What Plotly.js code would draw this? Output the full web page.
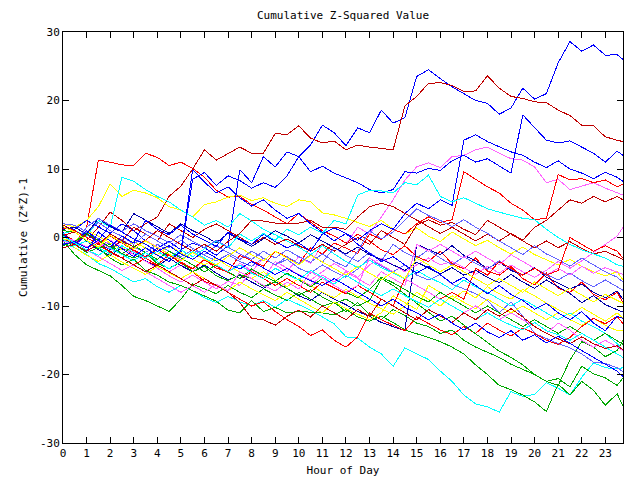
<!DOCTYPE html>
<html>
<head>
<meta charset="utf-8">
<script src="https://cdn.plot.ly/plotly-3.0.1.min.js"></script>
<style>
html,body{margin:0;padding:0;background:#fff;}
#chart{width:640px;height:480px;}
#chart .scatterlayer path.js-line{shape-rendering:crispEdges;}
</style>
</head>
<body>
<div id="chart"></div>
<script>
// Half-hour sample times (0, 0.5, ... 23.5) plus the last reading at 23.75
const hours = [];
for (let i = 0; i < 48; i++) hours.push(i / 2);
hours.push(23.75);

const xTickVals = [0,1,2,3,4,5,6,7,8,9,10,11,12,13,14,15,16,17,18,19,20,21,22,23];
const yTickVals = [-30,-20,-10,0,10,20,30];

// Cumulative (Z*Z)-1 series
const blueA   = [0.8,-1.2,0.5,-0.8,-1.8,-0.5,-2.0,-2.8,-1.5,-3.0,-2.2,8.5,9.5,7.6,9.0,8.3,7.2,8.0,7.3,9.0,11.8,13.5,16.4,15.3,13.4,16.0,15.3,18.6,16.7,17.5,23.5,24.5,23.2,22,21,20,19.6,18,18.9,21.8,20.2,21,25.5,28.6,27.2,28.1,26.6,26.7,26];
const blueB2  = [1.5,1.2,2.5,1.5,0.6,2.0,1.0,-0.5,-1.5,-0.6,-1.8,-0.8,-1.5,-2.6,-1.2,9.9,8.0,11.8,10.3,12.5,11.8,9.6,10.4,9.4,8.7,8.0,7.0,6.5,7.0,9.6,9.4,10.1,9.8,11.2,12.0,11.0,11.5,10.4,9.4,17.9,16.0,14.2,13.8,14.1,13.2,12.3,11.0,12.6,12.0];
const blueB4  = [-0.5,-0.8,1.0,-0.5,-1.4,0.2,-0.8,2.5,1.2,0.4,1.8,0.5,-0.4,-1.3,0.8,-0.2,-1.0,0.5,-0.6,-1.5,-0.8,-2.0,0.5,1.4,0.6,-0.4,1.0,2.0,1.2,3.5,5.0,4.2,5.5,4.7,14.2,15.0,14.0,13.2,12.5,12.0,11.0,10.2,11.2,10.0,9.4,8.6,9.5,8.8,8.2];
const blueB3  = [0.5,-1.0,-2.0,0.8,-0.5,-1.6,-2.8,-1.5,-2.6,-3.5,-2.0,9.9,8.1,6.5,7.4,5.8,4.6,5.5,4.0,2.8,3.5,2.0,0.8,-0.5,0.6,-1.0,-2.3,-3.5,-2.8,-4.0,-5.2,-4.2,-5.5,-6.7,-5.8,-7.0,-8.2,-7.0,-8.3,-9.2,-10.5,-9.6,-11.0,-12.0,-10.8,-12.5,-13.6,-11.5,-11.8];
const blue3   = [-1.0,-0.6,-1.5,-0.4,1.8,0.8,-0.2,-1.0,-2.0,-1.2,-2.4,-3.2,-2.0,-3.0,-3.8,-4.6,-3.5,-4.4,-5.4,-4.5,-5.5,-6.3,-7.0,-6.0,-7.0,-8.0,-9.0,-10.0,-9.0,-10.2,-11.0,-12.0,-11.2,-12.5,-13.5,-12.5,-13.8,-14.6,-13.6,-15.0,-14.2,-15.4,-14.4,-15.5,-16.5,-17.5,-18.5,-19.5,-20.3];
const navy1   = [-0.5,-1.2,-0.5,-1.8,-2.6,-1.5,-2.4,-3.4,-4.2,-3.0,-4.1,-5.0,-4.0,-5.2,-6.2,-5.5,-6.5,-7.4,-6.4,-7.5,-8.5,-9.2,-8.0,-9.0,-9.8,-10.8,-11.5,-12.4,-13.0,-13.6,-1.0,-1.8,-2.5,-1.2,-2.6,-3.4,-4.5,-3.6,-4.8,-5.5,-4.4,-5.8,-6.6,-7.5,-6.8,-8.0,-8.8,-7.8,-9.0];
const navy2   = [1.2,1.5,0.5,2.8,1.6,0.8,3.5,2.5,1.5,0.6,2.0,1.0,0.2,-0.8,0.6,-0.4,-1.3,-0.2,1.0,0.2,-0.8,0.4,-0.5,-1.5,-2.4,-1.4,-2.5,-3.2,-4.0,-4.8,-3.6,-4.5,-5.3,-4.4,-5.5,-4.8,-5.8,-6.6,-5.4,-6.5,-7.4,-6.2,-7.2,-8.2,-9.5,-8.5,-9.8,-10.5,-10.9];
const slate1  = [0.3,-0.5,0.8,-0.2,-1.0,-0.3,-1.4,-2.2,-1.0,-2.0,-2.8,-1.8,-2.6,-3.4,-2.5,-3.5,-4.2,-3.0,-4.0,-3.2,-4.5,-5.2,-4.0,-5.0,-5.8,-4.6,-3.0,-4.2,-5.0,-4.0,-5.5,-6.2,-5.4,-6.8,-7.5,-8.2,-9.2,-11.0,-9.4,-11.5,-14.0,-14.8,-15.5,-16.1,-17.0,-18.2,-18.4,-19.0,-19.6];
const slate2  = [2.0,1.8,0.8,2.2,1.0,0.2,-1.0,0.5,-0.5,-1.5,-0.4,-1.6,-2.5,-1.2,-2.2,-3.2,-2.0,-3.0,-4.0,-2.8,-3.8,-2.5,-3.6,-1.5,-2.6,-3.5,-2.2,-3.4,-1.0,-2.2,-3.0,-1.8,-3.0,-4.0,-2.8,-3.8,-4.6,-3.4,-4.6,-5.5,-4.5,-5.4,-6.2,-5.2,-6.3,-7.2,-6.2,-7.2,-7.7];
const slate3  = [-0.8,-1.0,1.5,2.8,1.8,0.9,2.0,1.0,0.2,-0.8,0.4,-0.6,-1.5,-0.4,-1.4,-2.4,-3.2,-2.0,-3.0,-1.8,-2.8,-3.6,-2.4,-3.5,-4.3,-2.0,1.0,-0.2,0.8,2.5,4.2,3.2,2.5,1.6,2.6,1.5,0.6,-0.5,-1.5,-2.5,-1.2,-2.4,-3.2,-4.2,-3.0,-4.0,-5.0,-5.8,-6.5];
const cyanE   = [-0.8,-1.5,-2.5,-3.8,-4.5,-5.5,-6.5,-6.0,-7.2,-8.0,-7.0,-7.8,-8.8,-9.5,-8.6,-9.4,-10.0,-9.2,-10.2,-9.0,-9.8,-10.6,-11.6,-12.6,-14.5,-14.7,-16.0,-17.0,-18.8,-16.1,-17.0,-17.8,-19.5,-21.0,-23.0,-24.3,-24.7,-25.5,-22.5,-23.2,-22.9,-21.2,-22.0,-23.0,-20.4,-18.3,-19.0,-19.2,-19.0];
const cyan2   = [0.6,1.0,0.2,2.5,1.5,8.8,8.2,7.0,6.0,5.2,4.0,3.0,1.8,2.5,1.5,3.5,2.4,1.2,0.4,-0.5,-1.4,-2.5,-1.2,-2.4,-3.5,-4.4,-3.3,-4.4,-5.2,-6.0,-4.8,-5.8,-6.6,-7.6,-6.2,-7.2,-8.0,-9.0,-10.0,-9.0,-10.0,-11.0,-12.0,-11.0,-12.2,-13.0,-14.0,-15.5,-16.4];
const cyan3   = [-0.3,-1.2,-0.5,-1.5,-2.4,-1.2,-2.2,-3.0,-2.0,-3.0,-1.8,-2.8,-1.6,-0.5,-1.5,0.5,-0.5,0.6,-0.4,1.2,0.4,1.5,0.6,2.5,2.0,6.2,6.9,6.8,6.5,8.0,7.7,9.1,6.0,5.2,5.8,5.0,4.2,3.7,3.2,2.8,2.6,1.2,0.0,-1.0,-1.8,-2.4,-3.0,-4.0,-4.2];
const cyan4   = [0.2,-0.8,-1.8,-2.6,-1.5,-2.5,-3.4,-2.2,-3.5,-4.6,-3.4,-2.0,-3.0,-4.0,-5.0,-4.0,-5.2,-6.0,-4.5,-5.4,-6.2,-4.8,-5.8,-6.8,-5.5,-6.6,-7.6,-8.5,-7.5,-8.5,-9.4,-10.2,-9.0,-10.0,-11.0,-12.0,-11.0,-12.0,-12.8,-13.5,-12.4,-13.6,-14.2,-15.0,-14.0,-15.0,-16.0,-17.0,-17.5];
const green1  = [-0.5,-2.5,-4.0,-4.8,-5.6,-7.0,-8.6,-9.2,-10.0,-10.8,-9.0,-6.8,-7.5,-8.2,-7.0,-8.0,-8.8,-7.5,-8.4,-9.2,-8.0,-9.0,-10.0,-9.5,-10.8,-9.5,-11.2,-12.0,-10.5,-11.4,-12.5,-13.0,-14.0,-13.5,-15.0,-16.0,-16.8,-17.5,-18.5,-19.2,-20.0,-21.0,-21.6,-17.9,-15.2,-16.0,-17.4,-16.5,-15.0];
const green2  = [0.4,-1.0,-2.2,-1.5,-3.0,-4.0,-3.2,-4.8,-5.5,-6.5,-7.0,-7.8,-8.5,-9.3,-10.6,-11.0,-9.2,-10.8,-10.2,-11.0,-10.8,-10.9,-11.0,-11.3,-10.5,-11.6,-12.2,-11.5,-12.4,-13.5,-14.0,-14.6,-15.2,-16.0,-17.0,-18.6,-20.0,-21.6,-22.2,-23.0,-24.0,-25.4,-21.4,-23.0,-21.0,-22.3,-24.5,-22.8,-24.6];
const green3  = [1.0,0.8,-0.5,-1.6,-1.0,-2.4,-3.0,-2.2,-3.8,-4.5,-3.6,-5.0,-4.2,-5.6,-6.3,-5.4,-6.0,-7.1,-6.5,-7.5,-8.4,-7.6,-8.7,-9.6,-9.0,-10.0,-9.2,-6.0,-7.0,-8.3,-9.6,-11.0,-12.2,-11.5,-12.8,-14.0,-15.4,-16.6,-17.5,-18.6,-20.0,-21.0,-20.6,-21.8,-18.8,-19.9,-20.5,-21.6,-20.5];
const green4  = [-1.2,-0.6,0.6,-0.4,-1.4,-2.4,-1.2,-2.2,-3.2,-2.0,-3.0,-4.0,-5.0,-4.0,-5.0,-6.0,-4.6,-5.6,-6.4,-5.2,-6.2,-7.2,-6.0,-7.0,-8.0,-8.8,-7.6,-5.8,-6.6,-7.6,-8.6,-9.4,-8.0,-9.0,-10.0,-11.0,-10.0,-11.0,-12.0,-13.0,-12.0,-13.0,-14.0,-13.0,-14.0,-15.0,-14.0,-15.0,-15.6];
const yellow1 = [2.0,1.5,2.5,4.5,7.8,6.0,6.9,6.5,5.8,4.5,4.0,3.0,4.8,5.2,5.9,6.2,5.4,5.8,5.0,4.5,5.5,5.2,3.6,3.3,2.8,2.2,1.6,2.5,1.2,0.5,1.4,0.2,-0.6,0.8,-0.2,-1.2,-0.4,-1.5,-2.4,-1.4,-2.5,-3.2,-4.0,-3.2,-4.2,-5.0,-5.6,-5.0,-6.2];
const yellow2 = [-0.2,-0.6,1.0,0.2,-0.8,-1.8,-0.6,-1.6,-2.5,-1.2,-2.2,-3.2,-4.0,-3.0,-4.2,-5.0,-6.0,-5.0,-6.2,-7.2,-6.0,-7.0,-8.0,-8.8,-7.6,-8.6,-9.6,-10.4,-11.2,-10.0,-8.0,-9.0,-10.0,-8.5,-9.5,-10.4,-9.0,-10.0,-11.0,-10.0,-11.0,-12.0,-11.0,-12.0,-12.8,-11.8,-12.8,-13.6,-13.5];
const yellow3 = [0.5,-1.5,-2.6,-3.5,-2.5,-3.6,-4.5,-5.4,-4.2,-5.2,-6.0,-5.0,-6.0,-7.0,-7.8,-6.5,-7.5,-8.4,-9.2,-8.0,-9.0,-10.0,-11.0,-9.4,-10.4,-11.2,-12.0,-11.0,-8.5,-9.5,-10.5,-7.0,-8.0,-9.0,-7.8,-8.8,-7.2,-8.2,-9.0,-7.6,-8.5,-9.6,-10.5,-11.4,-10.2,-11.2,-12.2,-11.0,-11.8];
const yellow4 = [1.6,0.8,-0.4,-1.4,0.3,-0.7,-1.7,-0.5,-1.5,-2.5,-3.4,-2.2,-3.2,-4.0,-2.8,-1.5,-2.5,-3.4,-2.0,-3.0,-4.0,-2.6,-3.6,-4.5,-5.5,-4.2,-5.2,-6.2,-5.0,-6.0,-3.0,-4.0,-5.0,-4.0,-5.0,-6.0,-7.0,-6.0,-7.0,-8.0,-6.5,-7.5,-8.5,-7.4,-8.4,-9.4,-8.3,-9.2,-9.6];
const pink1   = [-0.4,-1.0,-2.0,-1.0,-2.0,-3.0,-2.0,-3.0,-4.0,-5.0,-4.0,-5.0,-3.0,-4.0,-5.0,-4.0,-5.0,-3.0,-4.0,-5.0,-2.8,-3.8,-1.0,-2.0,-1.0,1.5,0.5,3.0,5.5,8.4,10.3,10.9,10.2,11.8,12.0,12.8,13.2,12.3,11.5,11.3,10.3,8.0,8.5,7.0,7.5,8.0,7.2,6.6,6.2];
const pink2   = [1.0,0.8,-0.5,-1.5,-0.4,-1.4,-2.5,-3.4,-4.5,-5.6,-6.5,-5.5,-6.5,-7.5,-6.4,-7.0,-5.0,-6.0,-3.5,-4.5,-5.4,-6.2,-5.0,-3.8,-4.8,-5.8,-4.0,-3.0,-4.0,-5.0,-4.0,-3.0,-4.0,-3.5,-4.4,-5.4,-4.2,-5.2,-4.0,-5.0,-5.8,-4.8,-3.5,-4.5,-3.4,-2.2,-1.0,0.2,1.5];
const pink3   = [0.2,-0.5,-1.4,-0.6,-1.6,-2.4,-1.4,-0.4,-1.4,-2.4,-3.2,-2.2,-3.0,-4.0,-5.0,-3.8,-4.8,-5.6,-6.4,-5.2,-6.2,-7.0,-5.5,-6.5,-5.0,-6.0,-7.0,-5.0,-6.0,-7.0,-1.0,-2.0,-1.0,-2.0,-3.0,-2.0,-3.0,-4.0,-2.5,-3.5,-4.5,-5.5,-4.5,-5.5,-4.2,-5.2,-4.4,-5.0,-5.4];
const pink4   = [-0.6,-0.8,-1.8,-2.8,-3.8,-4.8,-4.0,-5.0,-6.0,-7.0,-8.0,-7.0,-8.0,-6.8,-7.8,-5.0,-6.0,-7.0,-7.8,-6.5,-7.5,-5.0,-6.0,-7.0,-8.0,-7.0,-3.0,-4.0,-5.0,-6.0,-7.0,-8.0,-9.0,-10.0,-11.0,-10.0,-11.0,-12.0,-11.0,-12.0,-13.0,-14.0,-12.5,-13.5,-15.0,-16.0,-15.0,-16.0,-16.5];
const redC    = [0.6,-0.8,1.5,11.3,11.0,10.6,10.5,12.3,11.7,10.5,11.0,10.1,8.8,6.9,5.9,6.0,4.8,4.0,3.0,2.0,3.5,2.2,1.0,0.2,-0.8,0.5,-0.5,-1.8,-2.5,-1.2,-2.8,-3.5,-2.0,-3.8,-4.6,-3.0,-4.9,-5.5,-4.2,-6.0,-6.9,-5.2,-7.4,-8.0,-6.5,-8.3,-9.1,-8.0,-9.5];
const redD    = [0.5,-0.5,-1.5,-0.8,-2.2,-3.0,-1.8,-3.5,-4.0,-2.5,-3.8,-4.6,-3.2,-4.5,-5.0,-2.6,-3.4,-4.2,-2.0,-2.9,-3.8,-1.5,-2.4,-0.8,-1.5,-2.3,0.5,-0.3,1.2,0.5,2.0,3.0,2.2,2.6,9.6,8.5,7.4,6.5,5.0,4.0,2.6,2.8,9.2,8.4,8.6,8.0,8.4,7.4,7.8];
const red3    = [-0.5,-1.0,-2.0,-1.0,-2.2,-3.0,-4.0,-3.0,-4.0,-5.0,-6.0,-5.0,-6.4,-7.0,-8.0,-9.0,-10.0,-9.4,-10.8,-12.0,-13.0,-14.3,-13.5,-15.0,-16.0,-14.5,-11.0,-12.0,-12.8,-13.6,-11.6,-12.6,-13.5,-14.2,-13.0,-14.0,-12.5,-13.5,-14.4,-13.2,-14.0,-15.0,-15.6,-14.6,-13.0,-11.8,-12.6,-11.5,-12.6];
const red4    = [1.4,1.0,0.0,-1.0,0.2,-0.8,-1.8,-2.8,-1.8,-2.6,-3.6,-4.5,-3.3,-4.2,-5.2,-6.0,-5.0,-6.0,-7.0,-6.0,-7.0,-8.0,-6.5,-7.4,-8.2,-7.0,-8.0,-9.0,-10.0,-6.0,-7.0,-8.0,-9.0,-8.0,-9.0,-4.5,-5.5,-3.5,-4.5,-5.5,-4.5,-5.5,-4.8,0.0,-1.0,-2.0,-1.2,-2.0,-3.0];
const dredB   = [0.3,0.8,-0.5,1.5,3.7,2.5,1.0,2.0,3.0,6.0,7.5,10.0,12.8,11.3,12.3,13.2,12.3,12.3,15.2,15.0,16.3,14.5,13.8,14.1,12.8,13.5,13.2,13.0,12.8,19.2,20.6,22.5,22.6,22.2,21.3,21.4,23.6,21.8,20.6,20.3,19.8,19.7,18.6,17.8,16.4,16.3,14.7,14.2,14.0];
const dred2   = [-0.3,-0.8,0.5,-0.5,-1.5,-0.5,1.5,0.5,-0.5,2.0,1.0,0.0,1.2,2.0,1.0,0.0,-1.0,0.0,-1.0,-0.2,-1.2,-2.0,-1.0,-2.0,-1.0,0.0,-1.0,1.0,0.0,-1.0,1.8,2.6,1.8,2.2,1.2,0.4,2.5,1.5,0.5,-0.5,-1.5,-0.5,-1.5,-0.6,-1.6,-2.4,-2.0,-2.8,-3.2];
const dred3   = [1.8,1.0,0.0,-1.0,0.5,-0.5,-1.4,-0.4,1.0,0.0,-1.0,-2.0,-1.0,-2.0,-0.6,0.6,2.5,2.4,2.1,2.0,2.1,2.5,1.5,1.5,1.2,3.0,4.5,5.0,4.5,3.5,2.5,1.5,0.6,1.5,0.5,-0.5,0.5,-0.5,0.6,-0.4,1.5,2.5,4.0,5.5,5.0,6.0,5.2,6.0,5.5];
const dred4   = [-1.5,-1.0,-2.0,-1.0,-2.0,-3.0,-4.0,-5.0,-4.0,-5.0,-6.0,-7.0,-6.0,-7.0,-8.0,-9.5,-11.8,-12.0,-12.8,-11.5,-10.6,-11.6,-10.0,-11.0,-12.0,-10.5,-11.5,-9.0,-10.0,-11.0,-12.0,-10.5,-11.5,-12.4,-11.0,-12.0,-10.5,-11.5,-10.4,-11.6,-13.0,-14.0,-14.8,-15.5,-14.5,-15.5,-16.2,-15.8,-16.4];

const RED = '#ff0000', DRED = '#c00000', GREEN = '#00a800', BLUE = '#0000ff',
      NAVY = '#0000a8', SLATE = '#6464ff', CYAN = '#00ffff', YELLOW = '#ffff00', PINK = '#ff64ff';

const series = [
  [redC, RED], [green1, GREEN], [blueA, BLUE], [pink1, PINK], [cyanE, CYAN], [dredB, DRED], [yellow1, YELLOW], [slate1, SLATE], [navy1, NAVY],
  [redD, RED], [green2, GREEN], [blueB2, BLUE], [pink2, PINK], [cyan2, CYAN], [dred2, DRED], [yellow2, YELLOW], [slate2, SLATE], [navy2, NAVY],
  [red3, RED], [green3, GREEN], [blueB4, BLUE], [pink3, PINK], [cyan3, CYAN], [dred3, DRED], [yellow3, YELLOW], [slate3, SLATE],
  [red4, RED], [green4, GREEN], [blueB3, BLUE], [pink4, PINK], [cyan4, CYAN], [dred4, DRED], [yellow4, YELLOW], [blue3, BLUE]
];

const traces = series.map(([vals, col]) => ({
  x: hours, y: vals, type: 'scatter', mode: 'lines',
  line: {color: col, width: 1}, hoverinfo: 'skip', showlegend: false
}));

const FONT = 'DejaVu Sans Mono, monospace';
const layout = {
  width: 640, height: 480,
  margin: {l: 63, r: 17, t: 32, b: 37, pad: 0},
  paper_bgcolor: '#ffffff', plot_bgcolor: '#ffffff',
  font: {family: FONT, size: 11, color: '#000'},
  showlegend: false,
  title: {text: 'Cumulative Z-Squared Value', font: {family: FONT, size: 11, color: '#000'},
          xref: 'paper', x: 0.5, xanchor: 'center', yref: 'container', y: 1 - 15/480, yanchor: 'middle'},
  xaxis: {
    range: [0, 23.75], tickmode: 'array', tickvals: xTickVals, ticktext: xTickVals.map(String),
    ticks: 'inside', ticklen: 6, tickwidth: 1, tickcolor: '#000',
    showline: true, linecolor: '#000', linewidth: 1, mirror: 'ticks',
    showgrid: false, zeroline: false, tickfont: {family: FONT, size: 11},
    title: {text: 'Hour of Day', font: {family: FONT, size: 11}, standoff: 7}
  },
  yaxis: {
    range: [-30, 30], tickmode: 'array', tickvals: yTickVals, ticktext: yTickVals.map(String),
    ticks: 'inside', ticklen: 6, tickwidth: 1, tickcolor: '#000',
    showline: true, linecolor: '#000', linewidth: 1, mirror: 'ticks',
    showgrid: false, zeroline: false, tickfont: {family: FONT, size: 11},
    title: {text: 'Cumulative (Z*Z)-1', font: {family: FONT, size: 11}, standoff: 10}
  }
};

Plotly.newPlot('chart', traces, layout, {staticPlot: true, displayModeBar: false});
</script>
</body>
</html>
